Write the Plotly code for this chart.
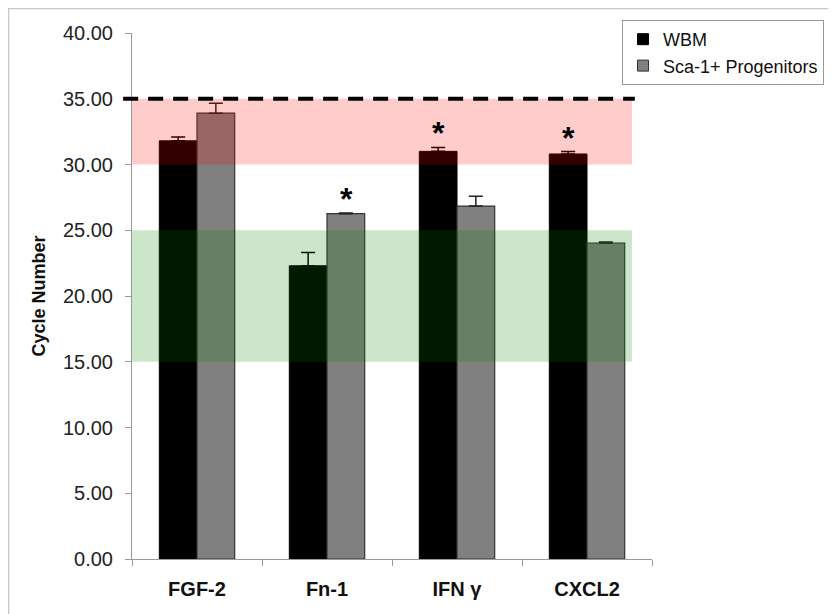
import plotly.graph_objects as go

categories = ["FGF-2", "Fn-1", "IFN γ", "CXCL2"]
wbm_values = [31.8, 22.3, 31.0, 30.8]
wbm_errors = [0.3, 1.0, 0.3, 0.18]
sca_values = [33.9, 26.26, 26.84, 24.03]
sca_errors = [0.75, 0.05, 0.75, 0.08]
star_flags_wbm = [False, False, True, True]
star_flags_sca = [False, True, False, False]
y_ticks = [0, 5, 10, 15, 20, 25, 30, 35, 40]
threshold = 35
red_band = [30, 35]
green_band = [15, 25]

FONT = "Liberation Sans, Arial, sans-serif"

# page offset of 8px (browser body margin)
L, T, W, H = 124, 25, 520, 526

fig = go.Figure()
fig.add_trace(go.Bar(
    name="WBM", x=categories, y=wbm_values, showlegend=False,
    marker=dict(color="#000000", line=dict(color="#000000", width=1)),
    error_y=dict(type="data", array=wbm_errors, arrayminus=[0]*4, symmetric=False,
                 color="#000000", thickness=1.5, width=7),
))
fig.add_trace(go.Bar(
    name="Sca-1+ Progenitors", x=categories, y=sca_values, showlegend=False,
    marker=dict(color="#808080", line=dict(color="#333333", width=1.2)),
    error_y=dict(type="data", array=sca_errors, arrayminus=[0]*4, symmetric=False,
                 color="#222222", thickness=1.5, width=7),
))
# legend entries with small square swatches
fig.add_trace(go.Scatter(name="WBM", x=[None], y=[None], mode="markers",
                         marker=dict(symbol="square", size=11, color="#000000",
                                     line=dict(color="#000", width=1))))
fig.add_trace(go.Scatter(name="Sca-1+ Progenitors", x=[None], y=[None], mode="markers",
                         marker=dict(symbol="square", size=11, color="#808080",
                                     line=dict(color="#333", width=1))))

fig.add_shape(type="rect", xref="paper", yref="y", x0=0, x1=0.9615,
              y0=red_band[0], y1=red_band[1], fillcolor="rgba(255,0,0,0.2)",
              line=dict(width=0), layer="above")
fig.add_shape(type="rect", xref="paper", yref="y", x0=0, x1=0.9615,
              y0=green_band[0], y1=green_band[1], fillcolor="rgba(0,128,0,0.2)",
              line=dict(width=0), layer="above")
fig.add_shape(type="line", xref="paper", yref="y", x0=-0.017, x1=0.967,
              y0=threshold, y1=threshold,
              line=dict(color="#000000", width=4, dash="15px,10px"), layer="above")

# outer frame
fig.add_shape(type="rect", xref="paper", yref="paper",
              x0=(0.5 - L) / W, x1=(850 - L) / W,
              y0=(T + W - 640) / H, y1=(T + H - 0) / H + (-0.5) / H,
              line=dict(color="#c8c8c8", width=1.5), fillcolor="rgba(0,0,0,0)", layer="below")

for i, c in enumerate(categories):
    if star_flags_wbm[i]:
        fig.add_annotation(x=c, y=wbm_values[i] + wbm_errors[i], xref="x", yref="y",
                           text="<b>*</b>", showarrow=False, xshift=-19, yshift=14,
                           yanchor="middle", font=dict(family=FONT, size=32, color="#000"))
    if star_flags_sca[i]:
        fig.add_annotation(x=c, y=sca_values[i] + sca_errors[i], xref="x", yref="y",
                           text="<b>*</b>", showarrow=False, xshift=19, yshift=14,
                           yanchor="middle", font=dict(family=FONT, size=32, color="#000"))

fig.update_layout(
    width=836, height=614,
    margin=dict(l=L, r=836 - L - W, t=T, b=614 - T - H),
    paper_bgcolor="white", plot_bgcolor="white",
    font=dict(family=FONT, color="#222222"),
    barmode="group", bargap=0.42, bargroupgap=0,
    showlegend=True,
    legend=dict(x=(614 - L) / W, y=(H + T - 12) / H, xanchor="left", yanchor="top",
                bordercolor="#999999", borderwidth=1, bgcolor="white",
                font=dict(family=FONT, size=18, color="#111"),
                itemwidth=30, tracegroupgap=4),
)
fig.update_xaxes(
    showline=True, linecolor="#999999", linewidth=1,
    ticks="outside", tickson="boundaries", ticklen=6, tickcolor="#999999",
    tickfont=dict(family=FONT, size=20, color="#111"),
    ticklabelstandoff=12,
    tickvals=categories, ticktext=["<b>%s</b>" % c for c in categories],
    showgrid=False, range=[-0.5, 3.5],
)
fig.update_yaxes(
    range=[0, 40], tickvals=y_ticks, ticktext=["%.2f" % v for v in y_ticks],
    showline=True, linecolor="#999999", linewidth=1,
    ticks="outside", ticklen=6, tickcolor="#999999",
    tickfont=dict(family=FONT, size=20, color="#222"),
    ticklabelstandoff=8,
    showgrid=False, zeroline=False,
    title=dict(text="<b>Cycle Number</b>", font=dict(family=FONT, size=18, color="#111"), standoff=12),
)

fig.write_html("out.html")
